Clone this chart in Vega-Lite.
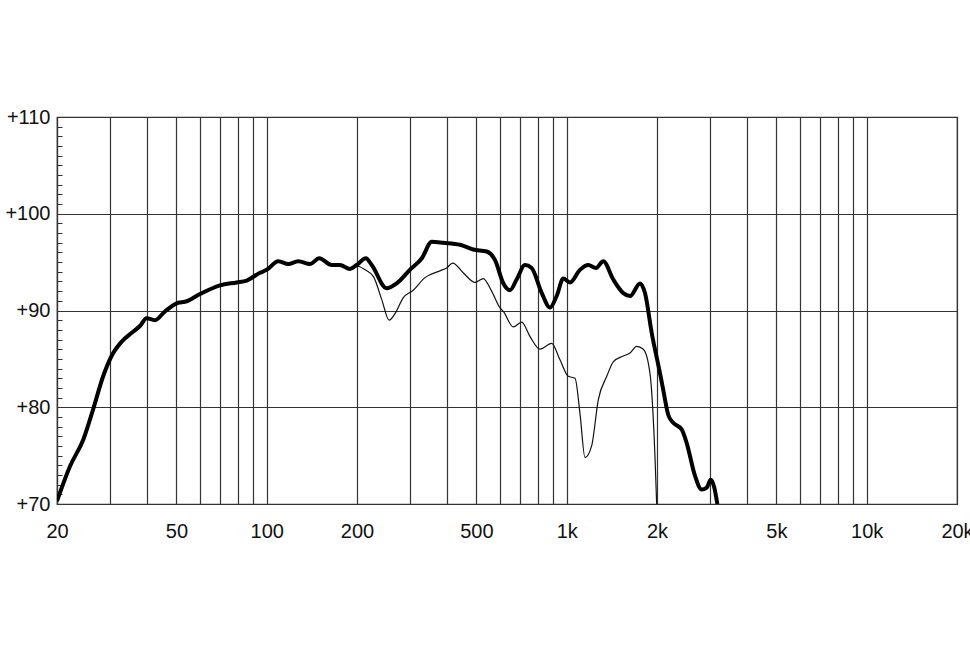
{
  "$schema": "https://vega.github.io/schema/vega-lite/v6.json",
  "autosize": {"type": "none"},
  "padding": {"left": 57, "top": 117, "right": 13, "bottom": 143},
  "width": 900,
  "height": 387,
  "background": "white",
  "data": {
    "values": [
      {"freq": 20, "db": 70.3, "curve": "thick"},
      {"freq": 22.1, "db": 73.9, "curve": "thick"},
      {"freq": 24.5, "db": 76.7, "curve": "thick"},
      {"freq": 26.4, "db": 79.8, "curve": "thick"},
      {"freq": 28.5, "db": 83.2, "curve": "thick"},
      {"freq": 30.4, "db": 85.3, "curve": "thick"},
      {"freq": 32.9, "db": 86.8, "curve": "thick"},
      {"freq": 35.5, "db": 87.7, "curve": "thick"},
      {"freq": 37.8, "db": 88.4, "curve": "thick"},
      {"freq": 39.8, "db": 89.2, "curve": "thick"},
      {"freq": 42.4, "db": 89.0, "curve": "thick"},
      {"freq": 45.8, "db": 89.9, "curve": "thick"},
      {"freq": 50.7, "db": 90.8, "curve": "thick"},
      {"freq": 53.4, "db": 90.9, "curve": "thick"},
      {"freq": 59.9, "db": 91.7, "curve": "thick"},
      {"freq": 69.9, "db": 92.6, "curve": "thick"},
      {"freq": 79.4, "db": 92.9, "curve": "thick"},
      {"freq": 85.8, "db": 93.1, "curve": "thick"},
      {"freq": 95, "db": 93.9, "curve": "thick"},
      {"freq": 100, "db": 94.2, "curve": "thick"},
      {"freq": 109.3, "db": 95.1, "curve": "thick"},
      {"freq": 118, "db": 94.8, "curve": "thick"},
      {"freq": 127.5, "db": 95.1, "curve": "thick"},
      {"freq": 139.5, "db": 94.8, "curve": "thick"},
      {"freq": 149.7, "db": 95.4, "curve": "thick"},
      {"freq": 164.7, "db": 94.7, "curve": "thick"},
      {"freq": 175.5, "db": 94.7, "curve": "thick"},
      {"freq": 189.5, "db": 94.3, "curve": "thick"},
      {"freq": 199.5, "db": 94.7, "curve": "thick"},
      {"freq": 214, "db": 95.4, "curve": "thick"},
      {"freq": 224, "db": 94.7, "curve": "thick"},
      {"freq": 251, "db": 92.3, "curve": "thick"},
      {"freq": 271, "db": 92.8, "curve": "thick"},
      {"freq": 300, "db": 94.2, "curve": "thick"},
      {"freq": 329, "db": 95.4, "curve": "thick"},
      {"freq": 355, "db": 97.1, "curve": "thick"},
      {"freq": 388, "db": 97.0, "curve": "thick"},
      {"freq": 441, "db": 96.8, "curve": "thick"},
      {"freq": 488, "db": 96.3, "curve": "thick"},
      {"freq": 541, "db": 96.1, "curve": "thick"},
      {"freq": 577, "db": 95.2, "curve": "thick"},
      {"freq": 615, "db": 92.8, "curve": "thick"},
      {"freq": 647, "db": 92.1, "curve": "thick"},
      {"freq": 681, "db": 93.2, "curve": "thick"},
      {"freq": 726, "db": 94.7, "curve": "thick"},
      {"freq": 764, "db": 94.4, "curve": "thick"},
      {"freq": 826, "db": 91.8, "curve": "thick"},
      {"freq": 880, "db": 90.3, "curve": "thick"},
      {"freq": 926, "db": 91.5, "curve": "thick"},
      {"freq": 974, "db": 93.3, "curve": "thick"},
      {"freq": 1026, "db": 92.9, "curve": "thick"},
      {"freq": 1107, "db": 94.2, "curve": "thick"},
      {"freq": 1180, "db": 94.7, "curve": "thick"},
      {"freq": 1252, "db": 94.4, "curve": "thick"},
      {"freq": 1324, "db": 95.1, "curve": "thick"},
      {"freq": 1430, "db": 93.2, "curve": "thick"},
      {"freq": 1544, "db": 91.8, "curve": "thick"},
      {"freq": 1626, "db": 91.5, "curve": "thick"},
      {"freq": 1756, "db": 92.8, "curve": "thick"},
      {"freq": 1824, "db": 91.8, "curve": "thick"},
      {"freq": 1920, "db": 87.7, "curve": "thick"},
      {"freq": 2047, "db": 83.5, "curve": "thick"},
      {"freq": 2098, "db": 81.8, "curve": "thick"},
      {"freq": 2181, "db": 79.2, "curve": "thick"},
      {"freq": 2266, "db": 78.4, "curve": "thick"},
      {"freq": 2418, "db": 77.7, "curve": "thick"},
      {"freq": 2512, "db": 76.3, "curve": "thick"},
      {"freq": 2678, "db": 72.9, "curve": "thick"},
      {"freq": 2818, "db": 71.5, "curve": "thick"},
      {"freq": 2930, "db": 71.7, "curve": "thick"},
      {"freq": 3020, "db": 72.5, "curve": "thick"},
      {"freq": 3098, "db": 71.8, "curve": "thick"},
      {"freq": 3178, "db": 70.0, "curve": "thick"},
      {"freq": 175.5, "db": 94.7, "curve": "thin"},
      {"freq": 189.5, "db": 94.3, "curve": "thin"},
      {"freq": 199.5, "db": 94.6, "curve": "thin"},
      {"freq": 213, "db": 94.2, "curve": "thin"},
      {"freq": 227, "db": 93.5, "curve": "thin"},
      {"freq": 242, "db": 91.1, "curve": "thin"},
      {"freq": 256, "db": 89.0, "curve": "thin"},
      {"freq": 268, "db": 89.7, "curve": "thin"},
      {"freq": 285, "db": 91.3, "curve": "thin"},
      {"freq": 308, "db": 92.1, "curve": "thin"},
      {"freq": 337, "db": 93.4, "curve": "thin"},
      {"freq": 378, "db": 94.1, "curve": "thin"},
      {"freq": 398, "db": 94.4, "curve": "thin"},
      {"freq": 417, "db": 94.9, "curve": "thin"},
      {"freq": 452, "db": 93.9, "curve": "thin"},
      {"freq": 495, "db": 92.9, "curve": "thin"},
      {"freq": 527, "db": 93.3, "curve": "thin"},
      {"freq": 562, "db": 92.0, "curve": "thin"},
      {"freq": 599, "db": 90.3, "curve": "thin"},
      {"freq": 615, "db": 89.9, "curve": "thin"},
      {"freq": 664, "db": 88.3, "curve": "thin"},
      {"freq": 708, "db": 88.8, "curve": "thin"},
      {"freq": 755, "db": 87.3, "curve": "thin"},
      {"freq": 815, "db": 86.0, "curve": "thin"},
      {"freq": 891, "db": 86.6, "curve": "thin"},
      {"freq": 950, "db": 84.9, "curve": "thin"},
      {"freq": 1012, "db": 83.2, "curve": "thin"},
      {"freq": 1066, "db": 83.0, "curve": "thin"},
      {"freq": 1107, "db": 79.4, "curve": "thin"},
      {"freq": 1151, "db": 74.8, "curve": "thin"},
      {"freq": 1211, "db": 76.0, "curve": "thin"},
      {"freq": 1275, "db": 80.8, "curve": "thin"},
      {"freq": 1360, "db": 83.2, "curve": "thin"},
      {"freq": 1430, "db": 84.7, "curve": "thin"},
      {"freq": 1544, "db": 85.3, "curve": "thin"},
      {"freq": 1626, "db": 85.6, "curve": "thin"},
      {"freq": 1711, "db": 86.3, "curve": "thin"},
      {"freq": 1801, "db": 86.0, "curve": "thin"},
      {"freq": 1895, "db": 83.5, "curve": "thin"},
      {"freq": 1969, "db": 74.9, "curve": "thin"},
      {"freq": 1995, "db": 70.0, "curve": "thin"}
    ]
  },
  "encoding": {
    "x": {
      "field": "freq",
      "type": "quantitative",
      "scale": {"type": "log", "domain": [20, 20000], "nice": false},
      "axis": {
        "title": null,
        "values": [20, 30, 40, 50, 60, 70, 80, 90, 100, 200, 300, 400, 500, 600, 700, 800, 900, 1000, 2000, 3000, 4000, 5000, 6000, 7000, 8000, 9000, 10000, 20000],
        "labelExpr": "indexof([20, 50, 100, 200, 500, 1000, 2000, 5000, 10000, 20000], datum.value) >= 0 ? (datum.value >= 1000 ? (datum.value / 1000) + 'k' : '' + datum.value) : ''",
        "ticks": false,
        "labelPadding": 17,
        "labelFlush": false,
        "labelBound": false,
        "labelOverlap": false,
        "grid": true
      }
    },
    "y": {
      "field": "db",
      "type": "quantitative",
      "scale": {"domain": [70, 110], "nice": false, "zero": false},
      "axis": {
        "title": null,
        "values": [70, 71, 72, 73, 74, 75, 76, 77, 78, 79, 80, 81, 82, 83, 84, 85, 86, 87, 88, 89, 90, 91, 92, 93, 94, 95, 96, 97, 98, 99, 100, 101, 102, 103, 104, 105, 106, 107, 108, 109, 110],
        "labelExpr": "datum.value % 10 === 0 ? '+' + datum.value : ''",
        "tickSize": -5,
        "labelPadding": 12,
        "labelOverlap": false,
        "grid": true,
        "gridOpacity": {"condition": {"test": "datum.value % 10 === 0", "value": 1}, "value": 0}
      }
    }
  },
  "layer": [
    {
      "transform": [{"filter": "datum.curve === 'thin'"}],
      "mark": {"type": "line", "interpolate": "monotone", "color": "#111", "strokeWidth": 1.2, "clip": true}
    },
    {
      "transform": [{"filter": "datum.curve === 'thick'"}],
      "mark": {"type": "line", "interpolate": "monotone", "color": "#000", "strokeWidth": 4, "clip": true}
    }
  ],
  "config": {
    "view": {"stroke": "#333", "strokeWidth": 1.2},
    "axis": {
      "labelFont": "Liberation Sans",
      "labelFontSize": 20,
      "labelColor": "#111",
      "gridColor": "#333",
      "gridWidth": 1.2,
      "domainColor": "#333",
      "domainWidth": 1.2,
      "tickColor": "#333",
      "tickWidth": 1
    }
  }
}
